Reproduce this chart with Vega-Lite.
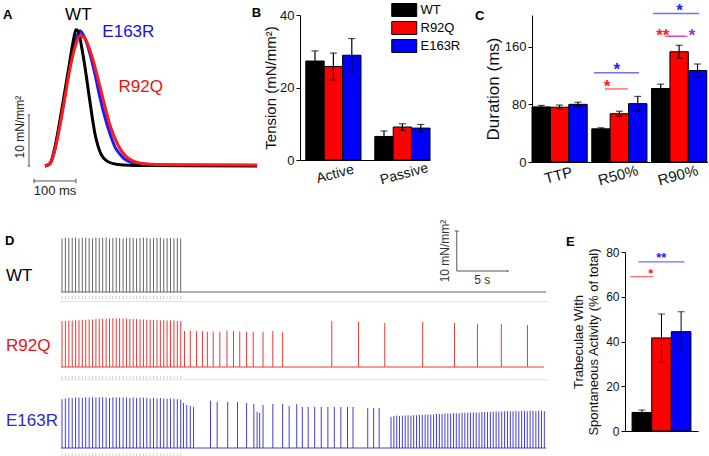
{
"$schema": "https://vega.github.io/schema/vega-lite/v6.json",
"padding": {"left": 0, "top": 1, "right": 0, "bottom": 0},
"background": "white",
"config": {
  "font": "Liberation Sans",
  "view": {"stroke": null},
  "axis": {"grid": false, "domainColor": "#000", "tickColor": "#000", "labelColor": "#111", "titleColor": "#111", "labelFont": "Liberation Sans", "titleFont": "Liberation Sans", "titleFontWeight": "normal", "tickSize": 4, "labelPadding": 2},
  "text": {"font": "Liberation Sans"},
  "legend": {"labelFont": "Liberation Sans"}
},
"datasets": {
  "twitch": [
    {"s":"WT","t":0,"T":0},{"s":"WT","t":11.9,"T":0.46},{"s":"WT","t":23.8,"T":3.7},{"s":"WT","t":35.7,"T":9.0},{"s":"WT","t":47.6,"T":14.8},{"s":"WT","t":59.5,"T":20.7},{"s":"WT","t":67.5,"T":24.6},{"s":"WT","t":73.8,"T":26.7},{"s":"WT","t":79.4,"T":26.4},{"s":"WT","t":87.3,"T":23.3},{"s":"WT","t":95.2,"T":19.4},{"s":"WT","t":103.2,"T":14.8},{"s":"WT","t":111.1,"T":10.3},{"s":"WT","t":119,"T":6.3},{"s":"WT","t":127,"T":3.7},{"s":"WT","t":134.9,"T":2.1},{"s":"WT","t":146.8,"T":1.0},{"s":"WT","t":162.7,"T":0.46},{"s":"WT","t":186.5,"T":0.2},{"s":"WT","t":250,"T":0.07},{"s":"WT","t":505,"T":0},
    {"s":"E163R","t":0,"T":0},{"s":"E163R","t":11.9,"T":0.46},{"s":"E163R","t":23.8,"T":3.4},{"s":"E163R","t":35.7,"T":8.3},{"s":"E163R","t":47.6,"T":13.9},{"s":"E163R","t":59.5,"T":19.7},{"s":"E163R","t":71.4,"T":24.3},{"s":"E163R","t":83.3,"T":26.5},{"s":"E163R","t":95.2,"T":25.0},{"s":"E163R","t":107.1,"T":22.0},{"s":"E163R","t":119,"T":18.0},{"s":"E163R","t":131,"T":13.4},{"s":"E163R","t":142.9,"T":9.5},{"s":"E163R","t":154.8,"T":6.3},{"s":"E163R","t":166.7,"T":3.7},{"s":"E163R","t":178.6,"T":2.3},{"s":"E163R","t":194.4,"T":1.1},{"s":"E163R","t":226.2,"T":0.46},{"s":"E163R","t":289.7,"T":0.2},{"s":"E163R","t":505,"T":0.1},
    {"s":"R92Q","t":0,"T":0},{"s":"R92Q","t":11.9,"T":0.46},{"s":"R92Q","t":23.8,"T":3.2},{"s":"R92Q","t":35.7,"T":8.0},{"s":"R92Q","t":47.6,"T":13.5},{"s":"R92Q","t":59.5,"T":19.1},{"s":"R92Q","t":71.4,"T":23.3},{"s":"R92Q","t":83.3,"T":25.6},{"s":"R92Q","t":95.2,"T":25.0},{"s":"R92Q","t":107.1,"T":22.7},{"s":"R92Q","t":119,"T":19.4},{"s":"R92Q","t":131,"T":15.5},{"s":"R92Q","t":142.9,"T":11.6},{"s":"R92Q","t":154.8,"T":8.0},{"s":"R92Q","t":166.7,"T":5.4},{"s":"R92Q","t":178.6,"T":3.4},{"s":"R92Q","t":190.5,"T":2.1},{"s":"R92Q","t":206.3,"T":1.1},{"s":"R92Q","t":234.1,"T":0.46},{"s":"R92Q","t":289.7,"T":0.26},{"s":"R92Q","t":505,"T":0.2}
  ],
  "tension": [
    {"cond":"Active","strain":"WT","mean":27.3,"lo":24.6,"hi":30.1},
    {"cond":"Active","strain":"R92Q","mean":25.8,"lo":22.1,"hi":29.5},
    {"cond":"Active","strain":"E163R","mean":28.9,"lo":24.3,"hi":33.5},
    {"cond":"Passive","strain":"WT","mean":6.5,"lo":5.0,"hi":8.0},
    {"cond":"Passive","strain":"R92Q","mean":9.1,"lo":8.2,"hi":10.0},
    {"cond":"Passive","strain":"E163R","mean":8.8,"lo":7.8,"hi":9.8}
  ],
  "duration": [
    {"param":"TTP","strain":"WT","mean":76.5,"lo":74.5,"hi":78.5},
    {"param":"TTP","strain":"R92Q","mean":76,"lo":73,"hi":79},
    {"param":"TTP","strain":"E163R","mean":80,"lo":77,"hi":83},
    {"param":"R50%","strain":"WT","mean":46,"lo":44.5,"hi":47.5},
    {"param":"R50%","strain":"R92Q","mean":67,"lo":63.5,"hi":70.5},
    {"param":"R50%","strain":"E163R","mean":81,"lo":71,"hi":91},
    {"param":"R90%","strain":"WT","mean":102,"lo":96,"hi":108},
    {"param":"R90%","strain":"R92Q","mean":153,"lo":144,"hi":162},
    {"param":"R90%","strain":"E163R","mean":127,"lo":118,"hi":136}
  ],
  "spont": [
    {"strain":"WT","mean":8.3,"lo":7.2,"hi":9.4},
    {"strain":"R92Q","mean":41.6,"lo":30.9,"hi":52.3},
    {"strain":"E163R","mean":44.4,"lo":35.4,"hi":53.3}
  ],
  "stim": [
    {"t":0.10},{"t":0.43},{"t":0.77},{"t":1.10},{"t":1.43},{"t":1.76},{"t":2.09},{"t":2.42},{"t":2.76},{"t":3.09},{"t":3.42},{"t":3.75},{"t":4.08},{"t":4.42},{"t":4.75},{"t":5.08},{"t":5.41},{"t":5.74},{"t":6.08},{"t":6.41},{"t":6.74},{"t":7.07},{"t":7.40},{"t":7.74},{"t":8.07},{"t":8.40},{"t":8.73},{"t":9.06},{"t":9.40},{"t":9.73},{"t":10.06},{"t":10.39},{"t":10.72},{"t":11.06},{"t":11.39},{"t":11.72}
  ],
  "wt": [
    {"t":0.10,"peak":13.4},{"t":0.43,"peak":13.6},{"t":0.77,"peak":13.5},{"t":1.10,"peak":13.5},{"t":1.43,"peak":13.6},{"t":1.76,"peak":13.4},{"t":2.09,"peak":13.5},{"t":2.42,"peak":13.6},{"t":2.76,"peak":13.5},{"t":3.09,"peak":13.4},{"t":3.42,"peak":13.6},{"t":3.75,"peak":13.5},{"t":4.08,"peak":13.5},{"t":4.42,"peak":13.6},{"t":4.75,"peak":13.4},{"t":5.08,"peak":13.5},{"t":5.41,"peak":13.6},{"t":5.74,"peak":13.5},{"t":6.08,"peak":13.4},{"t":6.41,"peak":13.5},{"t":6.74,"peak":13.6},{"t":7.07,"peak":13.5},{"t":7.40,"peak":13.4},{"t":7.74,"peak":13.5},{"t":8.07,"peak":13.6},{"t":8.40,"peak":13.5},{"t":8.73,"peak":13.4},{"t":9.06,"peak":13.5},{"t":9.40,"peak":13.5},{"t":9.73,"peak":13.6},{"t":10.06,"peak":13.4},{"t":10.39,"peak":13.5},{"t":10.72,"peak":13.5},{"t":11.06,"peak":13.4},{"t":11.39,"peak":13.5},{"t":11.72,"peak":13.4}
  ],
  "r92q": [
    {"t":0.10,"peak":11.5},{"t":0.43,"peak":11.5},{"t":0.77,"peak":11.6},{"t":1.10,"peak":11.6},{"t":1.43,"peak":11.7},{"t":1.76,"peak":11.7},{"t":2.09,"peak":11.8},{"t":2.42,"peak":11.8},{"t":2.76,"peak":11.9},{"t":3.09,"peak":11.9},{"t":3.42,"peak":12.0},{"t":3.75,"peak":12.0},{"t":4.08,"peak":12.1},{"t":4.42,"peak":12.1},{"t":4.75,"peak":12.2},{"t":5.08,"peak":12.2},{"t":5.41,"peak":12.2},{"t":5.74,"peak":12.2},{"t":6.08,"peak":12.1},{"t":6.41,"peak":12.1},{"t":6.74,"peak":12.0},{"t":7.07,"peak":12.0},{"t":7.40,"peak":12.0},{"t":7.74,"peak":11.9},{"t":8.07,"peak":11.9},{"t":8.40,"peak":11.8},{"t":8.73,"peak":11.8},{"t":9.06,"peak":11.8},{"t":9.40,"peak":11.7},{"t":9.73,"peak":11.7},{"t":10.06,"peak":11.7},{"t":10.39,"peak":11.6},{"t":10.72,"peak":11.6},{"t":11.06,"peak":11.6},{"t":11.39,"peak":11.5},{"t":11.72,"peak":11.5},
    {"t":12.09,"peak":9.0},{"t":12.66,"peak":9.1},{"t":13.27,"peak":9.0},{"t":13.85,"peak":9.0},{"t":14.33,"peak":8.8},{"t":14.90,"peak":8.9},{"t":15.55,"peak":8.8},{"t":16.25,"peak":9.1},{"t":16.89,"peak":9.0},{"t":17.50,"peak":8.9},{"t":18.17,"peak":8.8},{"t":18.82,"peak":8.9},{"t":19.78,"peak":8.8},{"t":20.74,"peak":9.0},{"t":21.70,"peak":8.6},{"t":26.51,"peak":11.5},{"t":29.13,"peak":11.25},{"t":31.70,"peak":11.0},{"t":35.41,"peak":11.25},{"t":38.53,"peak":11.0},{"t":40.77,"peak":10.75},{"t":43.11,"peak":10.75},{"t":45.67,"peak":10.5}
  ],
  "e163r": [
    {"t":0.10,"peak":12.2},{"t":0.43,"peak":12.4},{"t":0.77,"peak":12.5},{"t":1.10,"peak":12.5},{"t":1.43,"peak":12.6},{"t":1.76,"peak":12.6},{"t":2.09,"peak":12.5},{"t":2.42,"peak":12.7},{"t":2.76,"peak":12.6},{"t":3.09,"peak":12.7},{"t":3.42,"peak":12.6},{"t":3.75,"peak":12.7},{"t":4.08,"peak":12.7},{"t":4.42,"peak":12.6},{"t":4.75,"peak":12.5},{"t":5.08,"peak":12.7},{"t":5.41,"peak":12.6},{"t":5.74,"peak":12.6},{"t":6.08,"peak":12.7},{"t":6.41,"peak":12.6},{"t":6.74,"peak":12.5},{"t":7.07,"peak":12.6},{"t":7.40,"peak":12.5},{"t":7.74,"peak":12.6},{"t":8.07,"peak":12.6},{"t":8.40,"peak":12.5},{"t":8.73,"peak":12.4},{"t":9.06,"peak":12.5},{"t":9.40,"peak":12.4},{"t":9.73,"peak":12.5},{"t":10.06,"peak":12.4},{"t":10.39,"peak":12.3},{"t":10.72,"peak":12.4},{"t":11.06,"peak":12.3},{"t":11.39,"peak":12.2},{"t":11.72,"peak":12.1},
    {"t":11.99,"peak":11.25},{"t":12.31,"peak":10.75},{"t":12.66,"peak":10.5},{"t":12.98,"peak":10.25},
    {"t":14.64,"peak":11.8},{"t":15.29,"peak":11.5},{"t":16.32,"peak":11.5},{"t":17.28,"peak":11.5},{"t":18.17,"peak":11.25},{"t":18.88,"peak":11.0},{"t":19.20,"peak":9.0},{"t":19.45,"peak":8.75},{"t":19.78,"peak":10.75},{"t":20.74,"peak":11.0},{"t":21.70,"peak":11.0},{"t":22.34,"peak":10.5},{"t":23.08,"peak":11.0},{"t":23.63,"peak":10.25},{"t":24.20,"peak":10.25},{"t":24.84,"peak":10.25},{"t":25.48,"peak":10.25},{"t":26.13,"peak":10.25},{"t":26.76,"peak":10.25},{"t":27.40,"peak":10.25},{"t":28.05,"peak":10.25},{"t":28.59,"peak":10.25},{"t":30.03,"peak":10.0},{"t":30.61,"peak":10.0},{"t":31.15,"peak":10.0},
    {"t":32.31,"peak":7.8},{"t":32.59,"peak":8.0},{"t":32.87,"peak":8.1},{"t":33.14,"peak":8.0},{"t":33.42,"peak":8.1},{"t":33.70,"peak":8.1},{"t":33.98,"peak":8.2},{"t":34.26,"peak":8.1},{"t":34.53,"peak":8.2},{"t":34.81,"peak":8.2},{"t":35.09,"peak":8.3},{"t":35.37,"peak":8.3},{"t":35.65,"peak":8.3},{"t":35.92,"peak":8.4},{"t":36.20,"peak":8.4},{"t":36.48,"peak":8.4},{"t":36.76,"peak":8.5},{"t":37.04,"peak":8.5},{"t":37.31,"peak":8.5},{"t":37.59,"peak":8.6},{"t":37.87,"peak":8.6},{"t":38.15,"peak":8.6},{"t":38.43,"peak":8.7},{"t":38.70,"peak":8.7},{"t":38.98,"peak":8.7},{"t":39.26,"peak":8.8},{"t":39.54,"peak":8.8},{"t":39.82,"peak":8.8},{"t":40.09,"peak":8.9},{"t":40.37,"peak":8.9},{"t":40.65,"peak":8.9},{"t":40.93,"peak":8.9},{"t":41.21,"peak":9.0},{"t":41.48,"peak":9.0},{"t":41.76,"peak":9.0},{"t":42.04,"peak":9.0},{"t":42.32,"peak":9.1},{"t":42.60,"peak":9.1},{"t":42.87,"peak":9.1},{"t":43.15,"peak":9.1},{"t":43.43,"peak":9.2},{"t":43.71,"peak":9.2},{"t":43.99,"peak":9.2},{"t":44.26,"peak":9.2},{"t":44.54,"peak":9.3},{"t":44.82,"peak":9.2},{"t":45.10,"peak":9.3},{"t":45.38,"peak":9.3},{"t":45.65,"peak":9.2},{"t":45.93,"peak":9.3},{"t":46.21,"peak":9.3},{"t":46.49,"peak":9.2},{"t":46.77,"peak":9.3},{"t":47.04,"peak":9.3},{"t":47.32,"peak":9.2}
  ]
},
"spacing": 19,
"resolve": {"scale": {"color": "independent", "fill": "independent"}, "legend": {"color": "independent", "fill": "independent"}},
"vconcat": [
 {
  "bounds": "flush",
  "spacing": 102,
  "resolve": {"scale": {"color": "independent", "fill": "independent"}, "legend": {"color": "independent", "fill": "independent"}},
  "hconcat": [
   {
    "width": 198, "height": 185,
    "encoding": {
      "x": {"field": "t", "type": "quantitative", "scale": {"domain": [-107.1, 364.3], "nice": false, "zero": false}, "axis": null},
      "y": {"field": "T", "type": "quantitative", "scale": {"domain": [-6.67, 29.6], "nice": false, "zero": false}, "axis": null}
    },
    "layer": [
      {"data": {"name": "twitch"}, "transform": [{"filter": "datum.s === 'E163R'"}], "mark": {"type": "line", "color": "#1a1aff", "strokeWidth": 3, "interpolate": "monotone"}},
      {"data": {"name": "twitch"}, "transform": [{"filter": "datum.s === 'WT'"}], "mark": {"type": "line", "color": "#000000", "strokeWidth": 3, "interpolate": "monotone"}},
      {"data": {"name": "twitch"}, "transform": [{"filter": "datum.s === 'R92Q'"}], "mark": {"type": "line", "color": "#ff1a1a", "strokeWidth": 3, "interpolate": "monotone"}},
      {"data": {"values": [
         {"t": -38.1, "t2": -38.1, "T": 0, "T2": 10},
         {"t": -41, "t2": -35.2, "T": 10, "T2": 10},
         {"t": -41, "t2": -35.2, "T": 0, "T2": 0},
         {"t": -26.2, "t2": 73.8, "T": -2.94, "T2": -2.94},
         {"t": -26.2, "t2": -26.2, "T": -2.5, "T2": -3.4},
         {"t": 73.8, "t2": 73.8, "T": -2.5, "T2": -3.4}]},
       "mark": {"type": "rule", "color": "#555555", "strokeWidth": 1},
       "encoding": {"x2": {"field": "t2"}, "y2": {"field": "T2"}}},
      {"data": {"values": [{"s": "WT", "t": 79.4, "T": 28.6}, {"s": "E163R", "t": 198.4, "T": 25.2}, {"s": "R92Q", "t": 228, "T": 14.6}]},
       "mark": {"type": "text", "fontSize": 17, "align": "center", "baseline": "alphabetic"},
       "encoding": {"text": {"field": "s", "type": "nominal"}, "color": {"field": "s", "type": "nominal", "scale": {"domain": ["WT", "R92Q", "E163R"], "range": ["#000000", "#ee1111", "#1111ee"]}, "legend": null}}},
      {"data": {"values": [{"t": 23.8, "T": -4.9, "txt": "100 ms"}]},
       "mark": {"type": "text", "fontSize": 13, "align": "center", "baseline": "middle", "color": "#222222"},
       "encoding": {"text": {"field": "txt", "type": "nominal"}}},
      {"data": {"values": [{"t": -59.5, "T": 7.6, "txt": "10 mN/mm²"}]},
       "mark": {"type": "text", "fontSize": 12, "align": "center", "baseline": "middle", "angle": 270, "color": "#222222"},
       "encoding": {"text": {"field": "txt", "type": "nominal"}}},
      {"data": {"values": [{"t": -100, "T": 28.8, "txt": "A"}]},
       "mark": {"type": "text", "fontSize": 13, "fontWeight": "bold", "align": "left", "baseline": "alphabetic", "color": "#000000"},
       "encoding": {"text": {"field": "txt", "type": "nominal"}}}
    ]
   },
   {
    "width": 130, "height": 145,
    "layer": [
     {"data": {"name": "tension"},
      "mark": {"type": "bar", "stroke": "#000000", "strokeWidth": 1},
      "encoding": {
        "x": {"field": "cond", "type": "nominal", "title": null, "scale": {"domain": ["Active", "Passive"], "paddingInner": 0.2, "paddingOuter": 0.042, "align": 1}, "axis": {"labelAngle": -15, "labelFontSize": 14, "labelAlign": "center", "labelBaseline": "top", "labelPadding": 7, "ticks": false}},
        "xOffset": {"field": "strain", "type": "nominal", "scale": {"domain": ["WT", "R92Q", "E163R"], "paddingInner": 0, "paddingOuter": 0}},
        "y": {"field": "mean", "type": "quantitative", "title": "Tension (mN/mm²)", "scale": {"domain": [0, 40], "nice": false}, "axis": {"values": [0, 5, 10, 15, 20, 25, 30, 35, 40], "labelExpr": "datum.value % 10 === 0 ? datum.label : ''", "tickSize": {"condition": {"test": "datum.value % 10 !== 0", "value": 2}, "value": 4}, "labelFontSize": 13, "titleFontSize": 15, "titlePadding": 1}},
        "fill": {"field": "strain", "type": "nominal", "scale": {"domain": ["WT", "R92Q", "E163R"], "range": ["#000000", "#ff0000", "#0000ff"]},
                 "legend": {"orient": "none", "legendX": 91, "legendY": -12, "title": null, "symbolType": "M-1,-1.04H3V1.04H-1Z", "symbolSize": 156, "symbolStrokeColor": "#000000", "symbolStrokeWidth": 1, "symbolOpacity": 1, "labelFontSize": 13, "labelColor": "#000000", "rowPadding": 0, "labelOffset": 15.5, "padding": 0}}
      }},
     {"data": {"name": "tension"},
      "mark": {"type": "rule", "color": "#000000", "strokeWidth": 1.2},
      "encoding": {
        "x": {"field": "cond", "type": "nominal", "title": null},
        "xOffset": {"field": "strain", "type": "nominal"},
        "y": {"field": "lo", "type": "quantitative", "title": "Tension (mN/mm²)"},
        "y2": {"field": "hi"}}},
     {"data": {"name": "tension"},
      "mark": {"type": "tick", "orient": "horizontal", "size": 7, "thickness": 1.2, "color": "#000000"},
      "encoding": {
        "x": {"field": "cond", "type": "nominal", "title": null},
        "xOffset": {"field": "strain", "type": "nominal"},
        "y": {"field": "hi", "type": "quantitative", "title": "Tension (mN/mm²)"}}},
     {"data": {"name": "tension"},
      "mark": {"type": "tick", "orient": "horizontal", "size": 7, "thickness": 1.2, "color": "#000000"},
      "encoding": {
        "x": {"field": "cond", "type": "nominal", "title": null},
        "xOffset": {"field": "strain", "type": "nominal"},
        "y": {"field": "lo", "type": "quantitative", "title": "Tension (mN/mm²)"}}},
     {"data": {"values": [{"cond": "Active", "y": 39.5, "txt": "B"}]},
      "mark": {"type": "text", "fontSize": 13, "fontWeight": "bold", "align": "left", "baseline": "alphabetic", "color": "#000000"},
      "encoding": {
        "x": {"field": "cond", "type": "nominal", "title": null, "bandPosition": -0.98},
        "y": {"field": "y", "type": "quantitative", "title": "Tension (mN/mm²)"},
        "text": {"field": "txt", "type": "nominal"}}}
    ]
   },
   {
    "width": 176, "height": 147,
    "layer": [
     {"data": {"name": "duration"},
      "mark": {"type": "bar", "stroke": "#000000", "strokeWidth": 1},
      "encoding": {
        "x": {"field": "param", "type": "nominal", "title": null, "scale": {"domain": ["TTP", "R50%", "R90%"], "paddingInner": 0.175, "paddingOuter": 0.06, "align": 0}, "axis": {"labelAngle": -15, "labelFontSize": 15, "labelAlign": "center", "labelBaseline": "top", "labelPadding": 6, "ticks": false}},
        "xOffset": {"field": "strain", "type": "nominal", "scale": {"domain": ["WT", "R92Q", "E163R"], "paddingInner": 0, "paddingOuter": 0}},
        "y": {"field": "mean", "type": "quantitative", "title": "Duration (ms)", "scale": {"domain": [0, 204], "nice": false}, "axis": {"values": [0, 20, 40, 60, 80, 100, 120, 140, 160, 180, 200], "labelExpr": "datum.value % 40 === 0 ? datum.label : ''", "tickSize": {"condition": {"test": "datum.value % 40 !== 0", "value": 2}, "value": 4}, "labelFontSize": 13, "titleFontSize": 17, "titlePadding": 2}},
        "fill": {"field": "strain", "type": "nominal", "scale": {"domain": ["WT", "R92Q", "E163R"], "range": ["#000000", "#ff0000", "#0000ff"]}, "legend": null}
      }},
     {"data": {"name": "duration"},
      "mark": {"type": "rule", "color": "#000000", "strokeWidth": 1.2},
      "encoding": {
        "x": {"field": "param", "type": "nominal", "title": null},
        "xOffset": {"field": "strain", "type": "nominal"},
        "y": {"field": "lo", "type": "quantitative", "title": "Duration (ms)"},
        "y2": {"field": "hi"}}},
     {"data": {"name": "duration"},
      "mark": {"type": "tick", "orient": "horizontal", "size": 7, "thickness": 1.2, "color": "#000000"},
      "encoding": {
        "x": {"field": "param", "type": "nominal", "title": null},
        "xOffset": {"field": "strain", "type": "nominal"},
        "y": {"field": "hi", "type": "quantitative", "title": "Duration (ms)"}}},
     {"data": {"name": "duration"},
      "mark": {"type": "tick", "orient": "horizontal", "size": 7, "thickness": 1.2, "color": "#000000"},
      "encoding": {
        "x": {"field": "param", "type": "nominal", "title": null},
        "xOffset": {"field": "strain", "type": "nominal"},
        "y": {"field": "lo", "type": "quantitative", "title": "Duration (ms)"}}},
     {"data": {"values": [{"param": "R50%", "ly": 101.4, "sy": 97.0, "s": "*"}]},
      "layer": [
        {"mark": {"type": "tick", "orient": "horizontal", "size": 23, "thickness": 1.5, "color": "#ff3333"},
         "encoding": {"x": {"field": "param", "type": "nominal", "title": null, "bandPosition": 0.28}, "y": {"field": "ly", "type": "quantitative", "title": "Duration (ms)"}}},
        {"mark": {"type": "text", "fontSize": 17, "fontWeight": "bold", "color": "#ff2020", "align": "center", "baseline": "alphabetic"},
         "encoding": {"x": {"field": "param", "type": "nominal", "title": null, "bandPosition": 0.31}, "y": {"field": "sy", "type": "quantitative", "title": "Duration (ms)"}, "text": {"field": "s", "type": "nominal"}}}
      ]},
     {"data": {"values": [{"param": "R50%", "ly": 123.7, "sy": 120.3, "s": "*"}]},
      "layer": [
        {"mark": {"type": "tick", "orient": "horizontal", "size": 45, "thickness": 1.5, "color": "#3333ff"},
         "encoding": {"x": {"field": "param", "type": "nominal", "title": null, "bandPosition": 0.48}, "y": {"field": "ly", "type": "quantitative", "title": "Duration (ms)"}}},
        {"mark": {"type": "text", "fontSize": 17, "fontWeight": "bold", "color": "#2020ff", "align": "center", "baseline": "alphabetic"},
         "encoding": {"x": {"field": "param", "type": "nominal", "title": null, "bandPosition": 0.51}, "y": {"field": "sy", "type": "quantitative", "title": "Duration (ms)"}, "text": {"field": "s", "type": "nominal"}}}
      ]},
     {"data": {"values": [{"param": "R90%", "ly": 174.4, "sy": 168.2, "s": "**"}]},
      "layer": [
        {"mark": {"type": "tick", "orient": "horizontal", "size": 18, "thickness": 1.5, "color": "#ff3333"},
         "encoding": {"x": {"field": "param", "type": "nominal", "title": null, "bandPosition": 0.17}, "y": {"field": "ly", "type": "quantitative", "title": "Duration (ms)"}}},
        {"mark": {"type": "text", "fontSize": 17, "fontWeight": "bold", "color": "#ff2020", "align": "center", "baseline": "alphabetic"},
         "encoding": {"x": {"field": "param", "type": "nominal", "title": null, "bandPosition": 0.23}, "y": {"field": "sy", "type": "quantitative", "title": "Duration (ms)"}, "text": {"field": "s", "type": "nominal"}}}
      ]},
     {"data": {"values": [{"param": "R90%", "ly": 174.4, "sy": 168.2, "s": "*"}]},
      "layer": [
        {"mark": {"type": "tick", "orient": "horizontal", "size": 23, "thickness": 1.5, "color": "#b04ad0"},
         "encoding": {"x": {"field": "param", "type": "nominal", "title": null, "bandPosition": 0.81}, "y": {"field": "ly", "type": "quantitative", "title": "Duration (ms)"}}},
        {"mark": {"type": "text", "fontSize": 17, "fontWeight": "bold", "color": "#a030c8", "align": "center", "baseline": "alphabetic"},
         "encoding": {"x": {"field": "param", "type": "nominal", "title": null, "bandPosition": 0.82}, "y": {"field": "sy", "type": "quantitative", "title": "Duration (ms)"}, "text": {"field": "s", "type": "nominal"}}}
      ]},
     {"data": {"values": [{"param": "R90%", "ly": 206, "sy": 203.0, "s": "*"}]},
      "layer": [
        {"mark": {"type": "tick", "orient": "horizontal", "size": 46, "thickness": 1.5, "color": "#3333ff"},
         "encoding": {"x": {"field": "param", "type": "nominal", "title": null, "bandPosition": 0.58}, "y": {"field": "ly", "type": "quantitative", "title": "Duration (ms)"}}},
        {"mark": {"type": "text", "fontSize": 17, "fontWeight": "bold", "color": "#2020ff", "align": "center", "baseline": "alphabetic"},
         "encoding": {"x": {"field": "param", "type": "nominal", "title": null, "bandPosition": 0.57}, "y": {"field": "sy", "type": "quantitative", "title": "Duration (ms)"}, "text": {"field": "s", "type": "nominal"}}}
      ]},
     {"data": {"values": [{"param": "TTP", "y": 197, "txt": "C"}]},
      "mark": {"type": "text", "fontSize": 13, "fontWeight": "bold", "align": "left", "baseline": "alphabetic", "color": "#000000"},
      "encoding": {
        "x": {"field": "param", "type": "nominal", "title": null, "bandPosition": -1.156},
        "y": {"field": "y", "type": "quantitative", "title": "Duration (ms)"},
        "text": {"field": "txt", "type": "nominal"}}}
    ]
   }
  ]
 },
 {
  "bounds": "flush",
  "spacing": 65,
  "resolve": {"scale": {"color": "independent", "fill": "independent"}, "legend": {"color": "independent", "fill": "independent"}},
  "hconcat": [
   {
    "width": 560, "height": 205,
    "resolve": {"scale": {"y": "independent"}, "axis": {"y": "independent"}},
    "layer": [
     {"layer": [
       {"data": {"values": [{"a": -0.1, "b": 47.7, "y": -2.4}]},
        "mark": {"type": "rule", "color": "#e0e0e0", "strokeWidth": 1},
        "encoding": {"x": {"field": "a", "type": "quantitative", "scale": {"domain": [-5.481, 48.365], "nice": false, "zero": false}, "axis": null}, "x2": {"field": "b"}, "y": {"field": "y", "type": "quantitative", "scale": {"domain": [-41.25, 10], "nice": false, "zero": false}, "axis": null}}},
       {"data": {"values": [{"a": 0, "b": 47.5, "y": 0}]},
        "mark": {"type": "rule", "color": "#666666", "strokeWidth": 1},
        "encoding": {"x": {"field": "a", "type": "quantitative", "axis": null}, "x2": {"field": "b"}, "y": {"field": "y", "type": "quantitative", "axis": null}}},
       {"data": {"name": "wt"},
        "mark": {"type": "bar", "width": 1, "color": "#666666"},
        "encoding": {"x": {"field": "t", "type": "quantitative", "axis": null}, "y": {"field": "peak", "type": "quantitative", "axis": null}}},
       {"data": {"name": "stim"},
        "mark": {"type": "tick", "orient": "vertical", "size": 3, "thickness": 0.8, "color": "#aaaaaa"},
        "encoding": {"x": {"field": "t", "type": "quantitative", "axis": null}, "y": {"datum": -1.4, "type": "quantitative", "axis": null}}},
       {"data": {"values": [
          {"a": 38.75, "b": 38.75, "y": 5.25, "y2": 15.25},
          {"a": 38.75, "b": 43.75, "y": 5.25, "y2": 5.25},
          {"a": 38.55, "b": 38.95, "y": 15.25, "y2": 15.25},
          {"a": 43.75, "b": 43.75, "y": 5.0, "y2": 5.5}]},
        "mark": {"type": "rule", "color": "#555555", "strokeWidth": 1},
        "encoding": {"x": {"field": "a", "type": "quantitative", "axis": null}, "x2": {"field": "b"}, "y": {"field": "y", "type": "quantitative", "axis": null}, "y2": {"field": "y2"}}},
       {"data": {"values": [{"a": 41.25, "y": 1.9, "txt": "5 s"}]},
        "mark": {"type": "text", "fontSize": 12, "align": "center", "baseline": "alphabetic", "color": "#333333"},
        "encoding": {"x": {"field": "a", "type": "quantitative", "axis": null}, "y": {"field": "y", "type": "quantitative", "axis": null}, "text": {"field": "txt", "type": "nominal"}}},
       {"data": {"values": [{"a": 37.57, "y": 10.25, "txt": "10 mN/mm²"}]},
        "mark": {"type": "text", "fontSize": 12, "align": "center", "baseline": "middle", "angle": 270, "color": "#333333"},
        "encoding": {"x": {"field": "a", "type": "quantitative", "axis": null}, "y": {"field": "y", "type": "quantitative", "axis": null}, "text": {"field": "txt", "type": "nominal"}}},
       {"data": {"values": [{"a": -5.385, "y": 2.75, "txt": "WT"}]},
        "mark": {"type": "text", "fontSize": 17, "align": "left", "baseline": "alphabetic", "color": "#000000"},
        "encoding": {"x": {"field": "a", "type": "quantitative", "axis": null}, "y": {"field": "y", "type": "quantitative", "axis": null}, "text": {"field": "txt", "type": "nominal"}}},
       {"data": {"values": [{"a": -5.48, "y": 11.7, "txt": "D"}]},
        "mark": {"type": "text", "fontSize": 13, "fontWeight": "bold", "align": "left", "baseline": "alphabetic", "color": "#000000"},
        "encoding": {"x": {"field": "a", "type": "quantitative", "axis": null}, "y": {"field": "y", "type": "quantitative", "axis": null}, "text": {"field": "txt", "type": "nominal"}}}
     ]},
     {"layer": [
       {"data": {"values": [{"a": -0.1, "b": 47.7, "y": -3.2}]},
        "mark": {"type": "rule", "color": "#e0e0e0", "strokeWidth": 1},
        "encoding": {"x": {"field": "a", "type": "quantitative", "axis": null}, "x2": {"field": "b"}, "y": {"field": "y", "type": "quantitative", "scale": {"domain": [-22.5, 28.75], "nice": false, "zero": false}, "axis": null}}},
       {"data": {"values": [{"a": 0, "b": 47.3, "y": 0}]},
        "mark": {"type": "rule", "color": "#e83a3a", "strokeWidth": 1},
        "encoding": {"x": {"field": "a", "type": "quantitative", "axis": null}, "x2": {"field": "b"}, "y": {"field": "y", "type": "quantitative", "axis": null}}},
       {"data": {"name": "r92q"},
        "mark": {"type": "bar", "width": 1, "color": "#e83a3a"},
        "encoding": {"x": {"field": "t", "type": "quantitative", "axis": null}, "y": {"field": "peak", "type": "quantitative", "axis": null}}},
       {"data": {"name": "stim"},
        "mark": {"type": "tick", "orient": "vertical", "size": 3, "thickness": 0.8, "color": "#aaaaaa"},
        "encoding": {"x": {"field": "t", "type": "quantitative", "axis": null}, "y": {"datum": -2.6, "type": "quantitative", "axis": null}}},
       {"data": {"values": [{"a": -5.385, "y": 4, "txt": "R92Q"}]},
        "mark": {"type": "text", "fontSize": 17, "align": "left", "baseline": "alphabetic", "color": "#e8141b"},
        "encoding": {"x": {"field": "a", "type": "quantitative", "axis": null}, "y": {"field": "y", "type": "quantitative", "axis": null}, "text": {"field": "txt", "type": "nominal"}}}
     ]},
     {"layer": [
       {"data": {"values": [{"a": 0, "b": 47.5, "y": 0}]},
        "mark": {"type": "rule", "color": "#4040d0", "strokeWidth": 1},
        "encoding": {"x": {"field": "a", "type": "quantitative", "axis": null}, "x2": {"field": "b"}, "y": {"field": "y", "type": "quantitative", "scale": {"domain": [-2.25, 49], "nice": false, "zero": false}, "axis": null}}},
       {"data": {"name": "e163r"},
        "mark": {"type": "bar", "width": 1, "color": "#4040d0"},
        "encoding": {"x": {"field": "t", "type": "quantitative", "axis": null}, "y": {"field": "peak", "type": "quantitative", "axis": null}}},
       {"data": {"name": "stim"},
        "mark": {"type": "tick", "orient": "vertical", "size": 3, "thickness": 0.8, "color": "#aaaaaa"},
        "encoding": {"x": {"field": "t", "type": "quantitative", "axis": null}, "y": {"datum": -1.75, "type": "quantitative", "axis": null}}},
       {"data": {"values": [{"a": -5.385, "y": 5.5, "txt": "E163R"}]},
        "mark": {"type": "text", "fontSize": 17, "align": "left", "baseline": "alphabetic", "color": "#2a2ad0"},
        "encoding": {"x": {"field": "a", "type": "quantitative", "axis": null}, "y": {"field": "y", "type": "quantitative", "axis": null}, "text": {"field": "txt", "type": "nominal"}}}
     ]}
    ]
   },
   {
    "width": 73, "height": 179,
    "layer": [
     {"data": {"name": "spont"},
      "mark": {"type": "bar", "stroke": "#000000", "strokeWidth": 1},
      "encoding": {
        "x": {"field": "strain", "type": "nominal", "title": null, "scale": {"domain": ["WT", "R92Q", "E163R"], "paddingInner": 0, "paddingOuter": 0.36}, "axis": {"labels": false, "ticks": false}},
        "y": {"field": "mean", "type": "quantitative", "title": ["Trabeculae With", "Spontaneous Activity (% of total)"], "scale": {"domain": [0, 80], "nice": false}, "axis": {"values": [0, 10, 20, 30, 40, 50, 60, 70, 80], "labelExpr": "datum.value % 20 === 0 ? datum.label : ''", "tickSize": {"condition": {"test": "datum.value % 20 !== 0", "value": 2}, "value": 4}, "labelFontSize": 12, "titleFontSize": 13, "titleLineHeight": 15, "titlePadding": 5}},
        "fill": {"field": "strain", "type": "nominal", "scale": {"domain": ["WT", "R92Q", "E163R"], "range": ["#000000", "#ff0000", "#0000ff"]}, "legend": null}
      }},
     {"data": {"name": "spont"},
      "mark": {"type": "rule", "color": "#000000", "strokeWidth": 1},
      "encoding": {
        "x": {"field": "strain", "type": "nominal", "title": null},
        "y": {"field": "lo", "type": "quantitative", "title": ["Trabeculae With", "Spontaneous Activity (% of total)"]},
        "y2": {"field": "hi"}}},
     {"data": {"name": "spont"},
      "mark": {"type": "tick", "orient": "horizontal", "size": 7, "thickness": 1, "color": "#000000"},
      "encoding": {
        "x": {"field": "strain", "type": "nominal", "title": null},
        "y": {"field": "hi", "type": "quantitative", "title": ["Trabeculae With", "Spontaneous Activity (% of total)"]}}},
     {"data": {"name": "spont"},
      "mark": {"type": "tick", "orient": "horizontal", "size": 7, "thickness": 1, "color": "#000000"},
      "encoding": {
        "x": {"field": "strain", "type": "nominal", "title": null},
        "y": {"field": "lo", "type": "quantitative", "title": ["Trabeculae With", "Spontaneous Activity (% of total)"]}}},
     {"data": {"values": [{"strain": "WT", "ly": 69, "sy": 68.4, "s": "*"}]},
      "layer": [
        {"mark": {"type": "tick", "orient": "horizontal", "size": 23, "thickness": 1.3, "color": "#ff3333"},
         "encoding": {"x": {"field": "strain", "type": "nominal", "title": null, "bandPosition": 0.94}, "y": {"field": "ly", "type": "quantitative", "title": ["Trabeculae With", "Spontaneous Activity (% of total)"]}}},
        {"mark": {"type": "text", "fontSize": 13, "fontWeight": "bold", "color": "#ff2020", "align": "center", "baseline": "alphabetic"},
         "encoding": {"x": {"field": "strain", "type": "nominal", "title": null, "bandPosition": 0.95}, "y": {"field": "sy", "type": "quantitative", "title": ["Trabeculae With", "Spontaneous Activity (% of total)"]}, "text": {"field": "s", "type": "nominal"}}}
      ]},
     {"data": {"values": [{"strain": "R92Q", "ly": 75.6, "sy": 75.6, "s": "**"}]},
      "layer": [
        {"mark": {"type": "tick", "orient": "horizontal", "size": 46, "thickness": 1.3, "color": "#3333ff"},
         "encoding": {"x": {"field": "strain", "type": "nominal", "title": null, "bandPosition": 0.38}, "y": {"field": "ly", "type": "quantitative", "title": ["Trabeculae With", "Spontaneous Activity (% of total)"]}}},
        {"mark": {"type": "text", "fontSize": 13, "fontWeight": "bold", "color": "#2020ff", "align": "center", "baseline": "alphabetic"},
         "encoding": {"x": {"field": "strain", "type": "nominal", "title": null, "bandPosition": 0.49}, "y": {"field": "sy", "type": "quantitative", "title": ["Trabeculae With", "Spontaneous Activity (% of total)"]}, "text": {"field": "s", "type": "nominal"}}}
      ]},
     {"data": {"values": [{"strain": "WT", "y": 82.8, "txt": "E"}]},
      "mark": {"type": "text", "fontSize": 13, "fontWeight": "bold", "align": "left", "baseline": "alphabetic", "color": "#000000"},
      "encoding": {
        "x": {"field": "strain", "type": "nominal", "title": null, "bandPosition": -3.37},
        "y": {"field": "y", "type": "quantitative", "title": ["Trabeculae With", "Spontaneous Activity (% of total)"]},
        "text": {"field": "txt", "type": "nominal"}}}
    ]
   }
  ]
 }
]
}
